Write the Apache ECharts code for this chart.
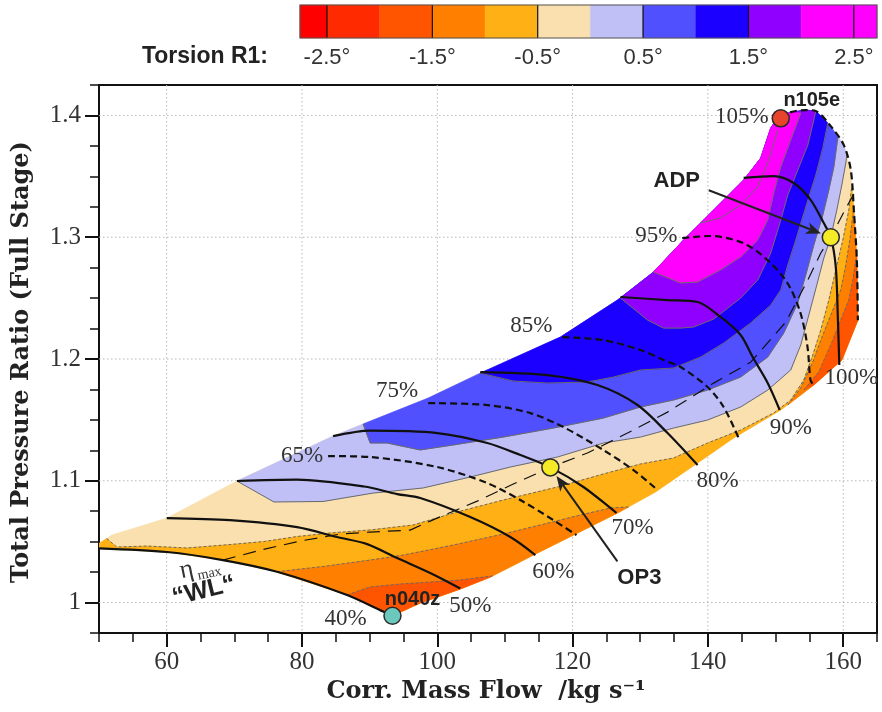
<!DOCTYPE html>
<html>
<head>
<meta charset="utf-8">
<title>Compressor map – Torsion R1</title>
<script src="https://cdn.jsdelivr.net/npm/echarts@6/dist/echarts.min.js"></script>
<style>
  html, body { margin: 0; padding: 0; background: #fff; }
  #chart { width: 882px; height: 712px; }
</style>
</head>
<body>
<div id="chart"></div>
<script>
// Every point is [corrected mass flow in kg/s, total pressure ratio].

// Outline of the computed map: surge side (low to high speed), 105 % top, choke side.
const surgeLine = [[50.0,1.0484],[51.88,1.0554],[60.03,1.0694],[70.39,1.0998],[84.60,1.1367],[89.04,1.1466],
  [98.66,1.1679],[106.36,1.1884],[118.2,1.2180],[126.64,1.2484],[131.97,1.2714],[136.41,1.2977],
  [140.85,1.3223],[145.29,1.3469],[147.81,1.3650],[149.29,1.3896],[150.47,1.3994]];
const topLine = [[152.25,1.4027],[154.47,1.4044],[155.95,1.4036],[158.17,1.3912],[160.10,1.3756],
  [161.13,1.3551],[161.58,1.3222],[162.02,1.2812],[162.17,1.2319]];
const chokeLine = [[159.80,1.1991],[155.65,1.1786],[150.77,1.1581],[143.81,1.1351],[138.48,1.1146],
  [132.26,1.0908],[126.64,1.0735],[120.13,1.0554],[114.50,1.0398],[107.84,1.0209],[103.40,1.0111],
  [97.48,0.9996],[93.38,0.9892]];

// Speed lines (% of design speed)
const speed40 = [[50,1.0445],[60.02,1.0415],[68.31,1.0349],[76.31,1.0253],[86.67,1.0062],[92.0,0.9926],[93.38,0.9892]];
const speed50 = [[60.02,1.0694],[69.35,1.0677],[79.27,1.0620],[85.19,1.0538],[89.63,1.0480],[94.07,1.0365],[98.96,1.0242],[103.40,1.0115]];
const speed60 = [[70.39,1.0998],[79.27,1.1010],[89.19,1.0953],[94.07,1.0891],[97.48,1.0858],[104.88,1.0702],[110.80,1.0538],[114.50,1.0390]];
const speed65 = [[83.86,1.1203],[90.08,1.1195],[100.0,1.1113],[107.40,1.0981],[112.29,1.0842],[117.17,1.0677],[120.58,1.0554]];
const speed70 = [[84.60,1.1367],[90.08,1.1412],[100.0,1.1392],[107.40,1.1310],[112.29,1.1211],[116.72,1.1110],[121.61,1.0949],[126.49,1.0735]];
const speed75 = [[98.66,1.1638],[107.40,1.1622],[113.76,1.1556],[118.65,1.1441],[124.57,1.1252],[129.01,1.1088],[132.57,1.0924]];
const speed80 = [[106.36,1.1893],[116.28,1.1868],[123.68,1.1786],[129.60,1.1622],[134.04,1.1392],[138.48,1.1129]];
const speed85 = [[118.50,1.2180],[124.57,1.2155],[130.05,1.2074],[133.45,1.1991],[135.97,1.1934],[139.96,1.1770],[142.33,1.1606],[144.55,1.1351]];
const speed90 = [[127.08,1.2509],[134.04,1.2484],[138.48,1.2468],[141.88,1.2345],[144.84,1.2197],[146.62,1.2016],[148.84,1.1803],[150.62,1.1581]];
const speed95 = [[136.21,1.2993],[140.36,1.3010],[145.25,1.2952],[148.80,1.2813],[151.76,1.2624],[153.69,1.2378],[154.73,1.2098],[155.17,1.1827],[155.62,1.1786]];
const speed100 = [[145.29,1.3488],[149.73,1.3502],[152.69,1.3445],[155.21,1.3305],[157.13,1.3116],[158.17,1.3000],[158.91,1.2755],[159.21,1.2345],[159.43,1.1950]];
const speed105 = [[150.77,1.3976],[152.25,1.4027],[154.47,1.4044],[155.95,1.4036],[158.17,1.3912],[160.10,1.3756],[161.13,1.3551],[161.58,1.3222],[162.02,1.2812],[162.17,1.2319]];

// Working line through the points of maximum efficiency
const workingLine = [[68.31,1.0349],[74.23,1.0435],[79.71,1.0505],[85.63,1.0562],[90.07,1.0579],[95.99,1.0595],
  [98.95,1.0669],[105.91,1.0833],[111.24,1.0973],[116.72,1.1110],[122.19,1.1228],[128.12,1.1392],[134.04,1.1564],
  [140.85,1.1802],[146.33,1.1974],[151.51,1.2303],[154.77,1.2648],[156.69,1.2870],[158.17,1.3000],[160.10,1.3207],[161.58,1.3355]];

// Operating points
const n040z = [93.38, 0.9892];
const n105e = [150.77, 1.3976];
const OP3 = [116.72, 1.1110];
const ADP = [158.17, 1.3000];

// Iso-lines of blade torsion R1 [deg]
const iso0 = [[70.39,1.0998],[75.86,1.0826],[83.12,1.0830],[90.52,1.0899],[97.92,1.0941],[104.88,1.1031],[110.80,1.1113],
  [117.76,1.1195],[124.57,1.1310],[130.05,1.1359],[134.93,1.1433],[139.96,1.1499],[144.85,1.1606],[148.85,1.1745],
  [152.25,1.1910],[153.73,1.2115],[154.92,1.2361],[156.10,1.2608],[157.14,1.2829],[158.17,1.3002],[159.06,1.3223],
  [159.80,1.3429],[160.39,1.3609],[160.54,1.3675]];
const iso05 = [[89.04,1.1466],[90.08,1.1310],[92.59,1.1310],[97.48,1.1253],[102.36,1.1294],[109.77,1.1359],[117.17,1.1433],
  [124.57,1.1515],[130.05,1.1606],[134.93,1.1663],[139.96,1.1745],[144.85,1.1852],[148.85,1.2016],[151.22,1.2213],
  [153.29,1.2460],[154.47,1.2690],[155.66,1.2936],[156.99,1.3182],[157.88,1.3388],[158.62,1.3577],[159.06,1.3757],[159.21,1.3823]];
const iso10 = [[106.36,1.1884],[111.24,1.1819],[116.28,1.1803],[122.20,1.1811],[126.05,1.1852],[130.05,1.1910],[134.93,1.1926],
  [138.93,1.2016],[142.33,1.2131],[146.33,1.2296],[149.29,1.2443],[150.77,1.2567],[151.81,1.2772],[152.99,1.2977],
  [154.47,1.3248],[155.95,1.3511],[156.99,1.3733],[157.58,1.3897],[157.73,1.3938]];
const iso15 = [[127.08,1.2501],[131.08,1.2320],[133.45,1.2254],[135.97,1.2254],[137.89,1.2263],[140.85,1.2328],[144.85,1.2501],
  [147.37,1.2649],[149.29,1.2870],[150.77,1.3141],[151.81,1.3347],[153.29,1.3552],[154.77,1.3757],[155.66,1.3963],[155.95,1.4036]];
const iso20 = [[131.97,1.2714],[135.97,1.2624],[138.48,1.2632],[141.89,1.2731],[144.85,1.2838],[147.37,1.2977],[148.85,1.3141],
  [149.74,1.3363],[150.77,1.3577],[152.25,1.3798],[153.73,1.4020]];
const iso25 = [[138.93,1.3117],[141.89,1.3158],[144.85,1.3265],[147.37,1.3412],[149.00,1.3634],[150.33,1.3880]];
const isoM05 = [[51.14,1.0526],[52.62,1.0456],[57.06,1.0464],[62.98,1.0448],[68.46,1.0472],[74.38,1.0501],[79.27,1.0542],
  [84.15,1.0571],[90.08,1.0596],[96.44,1.0637],[102.95,1.0744],[109.77,1.0842],[117.76,1.0949],[124.57,1.1056],[130.05,1.1138],
  [134.93,1.1187],[139.96,1.1310],[144.85,1.1417],[149.74,1.1557],[152.25,1.1663],[154.18,1.1828],[155.51,1.2033],[156.69,1.2238],
  [157.88,1.2484],[158.91,1.2731],[159.95,1.2977],[160.84,1.3223],[161.28,1.3421]];
const isoM10a = [[76.31,1.0253],[83.12,1.0296],[90.08,1.0349],[94.96,1.0390],[102.36,1.0472],[109.77,1.0563],[115.24,1.0637],
  [121.16,1.0719],[125.60,1.0776],[128.27,1.0785]];
const isoM10b = [[151.81,1.1622],[153.73,1.1762],[155.51,1.1975],[156.99,1.2197],[158.47,1.2402],[159.65,1.2567],[160.39,1.2772],
  [160.99,1.2977],[161.43,1.3182],[161.58,1.3265]];
const isoM15a = [[86.67,1.0062],[90.08,1.0128],[94.52,1.0152],[98.96,1.0168],[103.40,1.0185],[108.14,1.0218]];
const isoM15b = [[154.19,1.1745],[156.39,1.1893],[158.17,1.2115],[159.65,1.2320],[160.84,1.2484],[161.43,1.2649],[161.88,1.2813],[162.02,1.2895]];

// Colour scale of torsion R1 [deg]
const torsionEdges = [-2.756,-2.5,-2.0,-1.5,-1.0,-0.5,0,0.5,1.0,1.5,2.0,2.5,2.72];
const torsionColors = ['#ff0000','#ff2a00','#ff5500','#ff8000','#ffb015','#f9e0ae','#c0c0f6','#5050ff','#1c00ff','#9000ff','#ff00ff','#ff00ff'];
const torsionTicks = [-2.5,-1.5,-0.5,0.5,1.5,2.5];

// Axis ticks
const flowMajorTicks = [60,80,100,120,140,160];
const ratioMajorTicks = [1.0,1.1,1.2,1.3,1.4];

// ---------------------------------------------------------------------------
const rev = a => a.slice().reverse();
const bandColor = v => torsionColors[torsionEdges.findIndex(e => e > v) - 1];

// Filled regions, drawn bottom-up: whole map, then {torsion > t}, then {torsion < t}
const mapOutline = surgeLine.concat(topLine, chokeLine, rev(speed40).slice(1));
const bands = [
  { pts: mapOutline, color: bandColor(-0.25) },
  { pts: iso0.concat(rev(topLine.slice(0, 5)), rev(surgeLine.slice(4))), color: bandColor(0.25) },
  { pts: iso05.concat(rev(topLine.slice(0, 4)), rev(surgeLine.slice(6))), color: bandColor(0.75) },
  { pts: iso10.concat(rev(topLine.slice(0, 3)), rev(surgeLine.slice(8))), color: bandColor(1.25) },
  { pts: iso15.concat(rev(topLine.slice(0, 2)), rev(surgeLine.slice(10))), color: bandColor(1.75) },
  { pts: iso20.concat(topLine.slice(0, 1), rev(surgeLine.slice(11))), color: bandColor(2.25) },
  { pts: isoM05.concat(topLine.slice(6), chokeLine, rev(speed40).slice(1), surgeLine.slice(0, 1)), color: bandColor(-0.75) },
  { pts: isoM10a.concat(chokeLine.slice(6), rev(speed40.slice(4, 6))), color: bandColor(-1.25) },
  { pts: isoM10b.concat(topLine.slice(6), chokeLine.slice(0, 2)), color: bandColor(-1.25) },
  { pts: isoM15a.concat(chokeLine.slice(9), speed40.slice(5, 6)), color: bandColor(-1.75) },
  { pts: isoM15b.concat(topLine.slice(7), chokeLine.slice(0, 2)), color: bandColor(-1.75) }
];

const SERIF = '"Liberation Serif", "Times New Roman", serif';
const SANS = '"Liberation Sans", Arial, sans-serif';
const TITLE = '"DejaVu Serif", serif';
const last = a => a[a.length - 1];

const lineSeries = (data, style, z, smooth) => ({
  type: 'line', xAxisIndex: 0, yAxisIndex: 0, data, showSymbol: false, silent: true,
  lineStyle: style, z, animation: false, smooth: smooth || false
});

const isoSolid = { color: '#6a6a6a', width: 1 };
const isoDash = { color: '#6a6a6a', width: 1, type: [3, 2] };
const speedSolid = { color: '#111', width: 2.2 };
const speedDash = { color: '#111', width: 2.2, type: [7, 4] };

// Annotation texts, placed relative to a map point (offsets in px)
const pctFont = '23px ' + SERIF;
const tagFont = 'bold 20px ' + SANS;
const opFont = 'bold 22px ' + SANS;
const texts = [
  { t: '40%', at: n040z, dx: -47, dy: 3, font: pctFont },
  { t: '50%', at: last(speed50), dx: 10, dy: 17, font: pctFont },
  { t: '60%', at: last(speed60), dx: 18, dy: 17, font: pctFont },
  { t: '70%', at: last(speed70), dx: 16, dy: 15, font: pctFont },
  { t: '80%', at: last(speed80), dx: 20, dy: 16, font: pctFont },
  { t: '90%', at: last(speed90), dx: 11, dy: 18, font: pctFont },
  { t: '100%', at: last(speed100), dx: 12, dy: 13, font: pctFont },
  { t: '105%', at: n105e, dx: -39, dy: -1, font: pctFont },
  { t: '95%', at: speed95[0], dx: -26, dy: -2, font: pctFont },
  { t: '85%', at: speed85[0], dx: -31, dy: -11, font: pctFont },
  { t: '75%', at: speed75[0], dx: -31, dy: -12, font: pctFont },
  { t: '65%', at: speed65[0], dx: -26, dy: 0, font: pctFont },
  { t: 'n105e', at: n105e, dx: 31, dy: -18, font: tagFont, color: '#222' },
  { t: 'n040z', at: n040z, dx: 20, dy: -16, font: tagFont, color: '#222' },
  { t: 'ADP', at: ADP, dx: -154, dy: -56, font: opFont, color: '#222' },
  { t: 'OP3', at: OP3, dx: 89, dy: 111, font: opFont, color: '#222' }
];
const arrows = [
  { at: ADP, dx: -122, dy: -47 },
  { at: OP3, dx: 67, dy: 94 }
];

const chart = echarts.init(document.getElementById('chart'));

chart.setOption({
  animation: false,
  backgroundColor: '#fff',
  grid: [
    { left: 99, right: 5, top: 85, bottom: 79, show: true, borderColor: '#111', borderWidth: 2, backgroundColor: 'transparent' },
    { left: 300, right: 5, top: 5, height: 33 }
  ],
  xAxis: [
    { gridIndex: 0, type: 'value', min: 50, max: 165, interval: 5,
      axisLine: { show: false }, splitLine: { show: false },
      axisTick: { length: 9, lineStyle: { color: '#111', width: 1.5 } },
      axisLabel: { customValues: flowMajorTicks, margin: 17, color: '#333', fontFamily: SERIF, fontSize: 25 } },
    { gridIndex: 0, type: 'value', min: 50, max: 165, position: 'bottom',
      axisLine: { show: false }, splitLine: { show: false }, axisLabel: { show: false },
      axisTick: { customValues: flowMajorTicks, length: 14, lineStyle: { color: '#111', width: 2 } } },
    { gridIndex: 1, type: 'value', min: torsionEdges[0], max: last(torsionEdges), position: 'bottom',
      axisLine: { show: false }, splitLine: { show: false }, axisTick: { show: false },
      axisLabel: { customValues: torsionTicks, formatter: v => v + '°', margin: 9, color: '#333', fontFamily: SANS, fontSize: 22 } }
  ],
  yAxis: [
    { gridIndex: 0, type: 'value', min: 0.975, max: 1.425, interval: 0.025,
      axisLine: { show: false }, splitLine: { show: false },
      axisTick: { length: 9, lineStyle: { color: '#111', width: 1.5 } },
      axisLabel: { customValues: ratioMajorTicks, formatter: v => String(Math.round(v * 10) / 10),
        margin: 18, color: '#333', fontFamily: SERIF, fontSize: 25 } },
    { gridIndex: 0, type: 'value', min: 0.975, max: 1.425, position: 'left',
      axisLine: { show: false }, splitLine: { show: false }, axisLabel: { show: false },
      axisTick: { customValues: ratioMajorTicks, length: 14, lineStyle: { color: '#111', width: 2 } } },
    { gridIndex: 1, type: 'value', min: 0, max: 1, show: false }
  ],
  graphic: [
    { type: 'text', x: 268, y: 57, style: { text: 'Torsion R1:', align: 'right', verticalAlign: 'middle',
        font: 'bold 23px ' + SANS, fill: '#222' } },
    { type: 'text', x: 486, y: 692, style: { text: 'Corr. Mass Flow  /kg s⁻¹', align: 'center', verticalAlign: 'middle',
        font: 'bold 24px ' + TITLE, fill: '#222' } },
    { type: 'text', x: 22, y: 362, rotation: Math.PI / 2, style: { text: 'Total Pressure Ratio (Full Stage)',
        align: 'center', verticalAlign: 'middle', font: 'bold 24px ' + TITLE, fill: '#222' } }
  ],
  series: [
    // dotted grid at the labelled ticks
    { type: 'custom', xAxisIndex: 0, yAxisIndex: 0, z: 1, silent: true,
      data: flowMajorTicks.map(v => [v, 1.2]).concat(ratioMajorTicks.map(v => [100, v])),
      renderItem(params, api) {
        const cs = params.coordSys;
        const p = api.coord([api.value(0), api.value(1)]);
        const vertical = params.dataIndex < flowMajorTicks.length;
        const shape = vertical ? { x1: p[0], y1: cs.y, x2: p[0], y2: cs.y + cs.height }
                               : { x1: cs.x, y1: p[1], x2: cs.x + cs.width, y2: p[1] };
        return { type: 'line', shape, style: { stroke: '#b8b8b8', lineWidth: 1, lineDash: [1.5, 2.5] } };
      } },
    // torsion bands
    { type: 'custom', xAxisIndex: 0, yAxisIndex: 0, z: 2, silent: true, clip: true,
      data: bands.map(b => b.pts[0]),
      renderItem(params, api) {
        const b = bands[params.dataIndex];
        return { type: 'polygon', shape: { points: b.pts.map(p => api.coord(p)) },
                 style: { fill: b.color, stroke: b.color, lineWidth: 0.6 } };
      } },
    // iso-lines
    ...[iso0, iso05, iso10, iso15, iso20, iso25].map(d => lineSeries(d, isoSolid, 3)),
    ...[isoM05, isoM10a, isoM10b, isoM15a, isoM15b].map(d => lineSeries(d, isoDash, 3)),
    // working line
    lineSeries(workingLine, { color: '#111', width: 1.2, type: [13, 8] }, 4),
    // speed lines
    ...[speed40, speed50, speed60, speed70, speed80, speed90, speed100].map(d => lineSeries(d, speedSolid, 5, 0.3)),
    ...[speed65, speed75, speed85, speed95, speed105].map(d => lineSeries(d, speedDash, 5, 0.3)),
    // arrows to the operating points
    { type: 'custom', xAxisIndex: 0, yAxisIndex: 0, z: 6, silent: true,
      data: arrows.map(a => a.at),
      renderItem(params, api) {
        const a = arrows[params.dataIndex];
        const p = api.coord(a.at);
        const tail = [p[0] + a.dx, p[1] + a.dy];
        const L = Math.hypot(a.dx, a.dy), ux = -a.dx / L, uy = -a.dy / L;
        const tip = [p[0] - ux * 10.5, p[1] - uy * 10.5];
        const base = [tip[0] - ux * 15, tip[1] - uy * 15];
        const notch = [tip[0] - ux * 11, tip[1] - uy * 11];
        return { type: 'group', children: [
          { type: 'line', shape: { x1: tail[0], y1: tail[1], x2: notch[0], y2: notch[1] }, style: { stroke: '#222', lineWidth: 2 } },
          { type: 'polygon', shape: { points: [tip, [base[0] - uy * 6, base[1] + ux * 6], notch, [base[0] + uy * 6, base[1] - ux * 6]] },
            style: { fill: '#222' } }
        ] };
      } },
    // operating points
    { type: 'scatter', xAxisIndex: 0, yAxisIndex: 0, z: 7, silent: true, symbolSize: 17,
      itemStyle: { borderColor: '#2a2a2a', borderWidth: 1.5, opacity: 1 },
      data: [
        { value: n040z, itemStyle: { color: '#6cc7bd' } },
        { value: n105e, itemStyle: { color: '#e8432b' } },
        { value: OP3, itemStyle: { color: '#f4ea26' } },
        { value: ADP, itemStyle: { color: '#f4ea26' } }
      ] },
    // annotation texts
    { type: 'custom', xAxisIndex: 0, yAxisIndex: 0, z: 8, silent: true,
      data: texts.map(t => t.at),
      renderItem(params, api) {
        const t = texts[params.dataIndex];
        const p = api.coord(t.at);
        return { type: 'text', x: p[0] + t.dx, y: p[1] + t.dy,
                 style: { text: t.t, font: t.font, fill: t.color || '#333', align: 'center', verticalAlign: 'middle' } };
      } },
    // eta_max "WL" tag at the start of the working line
    { type: 'custom', xAxisIndex: 0, yAxisIndex: 0, z: 8, silent: true,
      data: [workingLine[0]],
      renderItem(params, api) {
        const p = api.coord(workingLine[0]);
        return { type: 'group', children: [
          { type: 'group', x: p[0] - 24, y: p[1] + 21, rotation: 0.2, children: [
            { type: 'text', x: -10, y: 0, style: { text: 'η', font: '26px ' + SERIF, fill: '#333', align: 'center', verticalAlign: 'bottom' } },
            { type: 'text', x: 12, y: 2, style: { text: 'max', font: '14px ' + SERIF, fill: '#333', align: 'center', verticalAlign: 'bottom' } }
          ] },
          { type: 'text', x: p[0] - 19, y: p[1] + 31, rotation: 0.24,
            style: { text: '“WL“', font: 'bold 25px ' + SANS, fill: '#222', align: 'center', verticalAlign: 'middle' } }
        ] };
      } },
    // colour bar
    { type: 'custom', xAxisIndex: 2, yAxisIndex: 2, z: 2, silent: true,
      data: torsionColors.map((c, i) => [torsionEdges[i], 0.5]),
      renderItem(params, api) {
        const i = params.dataIndex;
        const a = api.coord([torsionEdges[i], 0]), b = api.coord([torsionEdges[i + 1], 1]);
        return { type: 'rect', shape: { x: a[0], y: b[1], width: b[0] - a[0], height: a[1] - b[1] },
                 style: { fill: torsionColors[i], stroke: torsionColors[i], lineWidth: 0.5 } };
      } },
    { type: 'custom', xAxisIndex: 2, yAxisIndex: 2, z: 3, silent: true,
      data: torsionTicks.map(v => [v, 0.5]).concat([[torsionEdges[0], 0]]),
      renderItem(params, api) {
        if (params.dataIndex < torsionTicks.length) {
          const a = api.coord([torsionTicks[params.dataIndex], 0]), b = api.coord([torsionTicks[params.dataIndex], 1]);
          return { type: 'line', shape: { x1: a[0], y1: a[1], x2: b[0], y2: b[1] }, style: { stroke: '#111', lineWidth: 1.2 } };
        }
        const a = api.coord([torsionEdges[0], 0]), b = api.coord([last(torsionEdges), 1]);
        return { type: 'rect', shape: { x: a[0], y: b[1], width: b[0] - a[0], height: a[1] - b[1] },
                 style: { fill: 'none', stroke: '#555', lineWidth: 1.2 } };
      } }
  ]
});
</script>
</body>
</html>
